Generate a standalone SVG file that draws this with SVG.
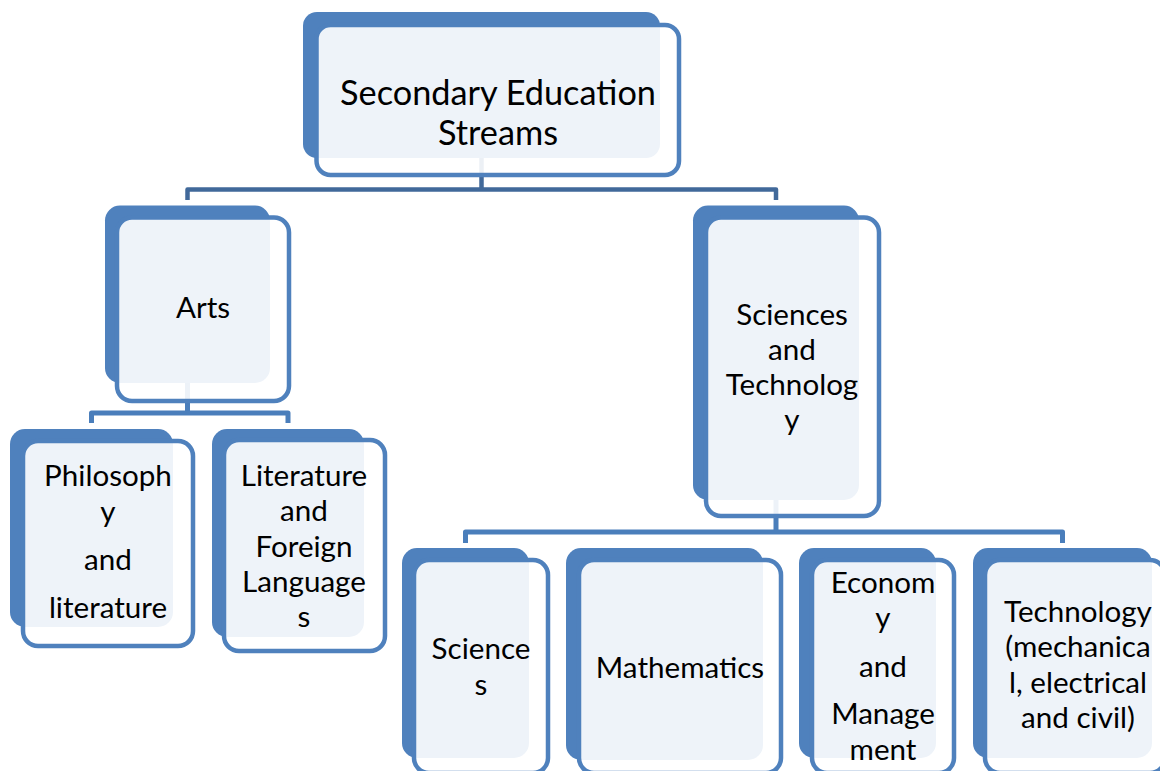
<svg xmlns="http://www.w3.org/2000/svg" width="1160" height="771" viewBox="0 0 1160 771">
<style>
.back{fill:#4F81BD}
.front{fill:#FFFFFF;fill-opacity:0.9;stroke:#4F81BD;stroke-width:4.5}
.c1{fill:none;stroke:#41699A;stroke-width:4.5;stroke-linejoin:round}
.c2{fill:none;stroke:#4A7EBB;stroke-width:5;stroke-linejoin:round}
text{font-family:Lato,"Liberation Sans",sans-serif;fill:#000;text-anchor:middle}
.t0{font-size:34.3px}
.t1{font-size:29.6px}
</style>
<rect width="1160" height="771" fill="#FFFFFF"/>
<g id="connectors">
<path class="c1" d="M481.5,158 V189.5 M187.5,200 V189.5 H776 V200"/>
<path class="c2" d="M187.5,383 V413 M91.5,423 V413 H288 V423"/>
<path class="c2" d="M776,500 V532 M465.5,543 V532 H1062.5 V543"/>
</g>
<g id="n-root">
<rect class="back" x="303" y="12" width="357" height="146" rx="14"/>
<rect class="front" x="316.5" y="25" width="362.5" height="150" rx="14"/>
<text class="t0" x="498" y="105">Secondary Education</text>
<text class="t0" x="498" y="145">Streams</text>
</g>
<g id="n-arts">
<rect class="back" x="105" y="205.5" width="165" height="177.5" rx="15"/>
<rect class="front" x="117" y="217.5" width="172" height="183.5" rx="15"/>
<text class="t1" x="203" y="318">Arts</text>
</g>
<g id="n-sciences-tech">
<rect class="back" x="693" y="205.5" width="166" height="294.5" rx="15"/>
<rect class="front" x="706" y="217.5" width="173" height="298.5" rx="15"/>
<text class="t1" x="792" y="325">Sciences</text>
<text class="t1" x="792" y="360">and</text>
<text class="t1" x="792" y="395">Technolog</text>
<text class="t1" x="792" y="430">y</text>
</g>
<g id="n-philosophy">
<rect class="back" x="10" y="429" width="163" height="198" rx="15"/>
<rect class="front" x="23" y="441" width="170" height="205" rx="15"/>
<text class="t1" x="108" y="486">Philosoph</text>
<text class="t1" x="108" y="522">y</text>
<text class="t1" x="108" y="570">and</text>
<text class="t1" x="108" y="618">literature</text>
</g>
<g id="n-literature">
<rect class="back" x="212" y="429" width="152" height="208" rx="15"/>
<rect class="front" x="224" y="440" width="161" height="211" rx="15"/>
<text class="t1" x="304" y="486">Literature</text>
<text class="t1" x="304" y="521">and</text>
<text class="t1" x="304" y="557">Foreign</text>
<text class="t1" x="304" y="592">Language</text>
<text class="t1" x="304" y="627">s</text>
</g>
<g id="n-sciences">
<rect class="back" x="402" y="548" width="127" height="210" rx="15"/>
<rect class="front" x="414" y="560" width="134" height="213" rx="15"/>
<text class="t1" x="481" y="659">Science</text>
<text class="t1" x="481" y="695">s</text>
</g>
<g id="n-mathematics">
<rect class="back" x="566" y="548" width="197" height="212" rx="15"/>
<rect class="front" x="579" y="560" width="202" height="213" rx="15"/>
<text class="t1" x="680" y="678">Mathematics</text>
</g>
<g id="n-economy">
<rect class="back" x="799" y="548" width="137" height="210" rx="15"/>
<rect class="front" x="812" y="560" width="142" height="213" rx="15"/>
<text class="t1" x="883" y="593">Econom</text>
<text class="t1" x="883" y="628">y</text>
<text class="t1" x="883" y="677">and</text>
<text class="t1" x="883" y="724">Manage</text>
<text class="t1" x="883" y="760">ment</text>
</g>
<g id="n-technology">
<rect class="back" x="973" y="548" width="179" height="210" rx="15"/>
<rect class="front" x="985" y="560" width="180" height="213" rx="15"/>
<text class="t1" x="1078" y="622">Technology</text>
<text class="t1" x="1078" y="657">(mechanica</text>
<text class="t1" x="1078" y="693">l, electrical</text>
<text class="t1" x="1078" y="728">and civil)</text>
</g>
</svg>
